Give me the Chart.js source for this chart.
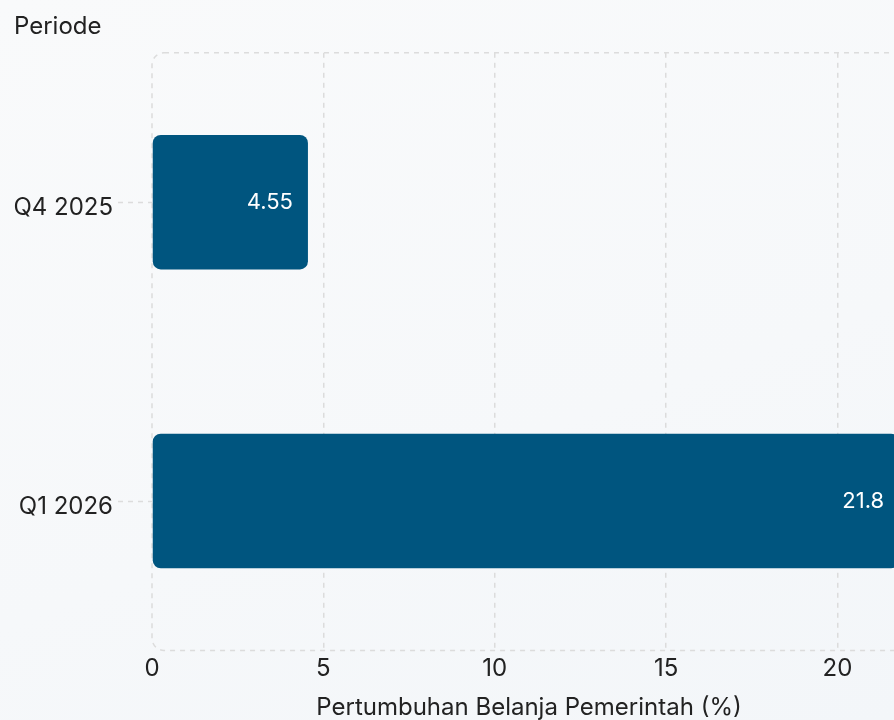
<!DOCTYPE html>
<html>
<head>
<meta charset="utf-8">
<script src="https://cdn.jsdelivr.net/npm/chart.js@4.4.1/dist/chart.umd.min.js"></script>
<style>
  html, body { margin: 0; padding: 0; overflow: hidden; }
  body { width: 894px; height: 720px; background: linear-gradient(160deg, #f9fafb 0%, #f6f8fa 60%, #f3f6f9 100%); }
  #wrap { position: absolute; left: 0; top: 0; width: 930px; height: 726px; }
</style>
</head>
<body>
<div id="wrap"><canvas id="c" width="930" height="726"></canvas></div>
<script>
const categories = ['Q4 2025', 'Q1 2026'];
const growthValues = [4.55, 21.8];
const valueLabels = ['4.55', '21.8'];
const xTickValues = [0, 5, 10, 15, 20];
const xMax = 22;

const textColor = '#222222';
const gridColor = '#dcdcdc';
const fontFamily = 'Inter, "Noto Sans", sans-serif';

const roundedBorder = {
  id: 'roundedBorder',
  beforeDatasetsDraw(chart) {
    const a = chart.chartArea, ctx = chart.ctx;
    ctx.save();
    ctx.strokeStyle = gridColor;
    ctx.lineWidth = 1.5;
    ctx.setLineDash([5, 5]);
    ctx.beginPath();
    ctx.roundRect(a.left, a.top, a.right - a.left, a.bottom - a.top, 12);
    ctx.stroke();
    ctx.restore();
  }
};

const valueLabelPlugin = {
  id: 'valueLabelPlugin',
  afterDatasetsDraw(chart) {
    const ctx = chart.ctx;
    const meta = chart.getDatasetMeta(0);
    ctx.save();
    ctx.fillStyle = '#ffffff';
    ctx.font = '22px ' + fontFamily;
    ctx.textAlign = 'right';
    ctx.textBaseline = 'middle';
    meta.data.forEach((bar, i) => {
      ctx.fillText(valueLabels[i], bar.x - 15, bar.y);
    });
    ctx.restore();
  }
};

new Chart(document.getElementById('c'), {
  type: 'bar',
  data: {
    labels: categories,
    datasets: [{
      data: growthValues,
      backgroundColor: '#00557f',
      borderRadius: 8,
      borderSkipped: false,
      barPercentage: 0.9,
      categoryPercentage: 0.5
    }]
  },
  options: {
    indexAxis: 'y',
    responsive: false,
    animation: false,
    layout: { padding: { left: 14, right: 24, top: 4, bottom: 0 } },
    plugins: {
      legend: { display: false },
      tooltip: { enabled: false },
      title: {
        display: true,
        text: 'Periode',
        align: 'start',
        color: textColor,
        font: { family: fontFamily, size: 24, weight: 'normal' },
        padding: { top: 8, bottom: 12 }
      }
    },
    scales: {
      x: {
        min: 0,
        max: xMax,
        afterBuildTicks(scale) { scale.ticks = xTickValues.map(v => ({ value: v })); },
        ticks: { color: textColor, font: { family: fontFamily, size: 24 }, padding: 4 },
        grid: {
          color: ctx => (ctx.tick && ctx.tick.value === 0) ? 'rgba(0,0,0,0)' : gridColor,
          lineWidth: 1.5,
          drawTicks: false
        },
        border: { display: false, dash: [5, 5] },
        title: {
          display: true,
          text: 'Pertumbuhan Belanja Pemerintah (%)',
          color: textColor,
          font: { family: fontFamily, size: 24 },
          padding: { top: 6, bottom: 4 }
        }
      },
      y: {
        afterFit(scale) { scale.width = 138; },
        ticks: { color: textColor, font: { family: fontFamily, size: 24 }, padding: 5, labelOffset: 6 },
        grid: {
          offset: false,
          drawOnChartArea: false,
          drawTicks: true,
          tickLength: 34,
          tickColor: gridColor,
          tickWidth: 1.5,
          tickBorderDash: [5, 5],
          color: gridColor
        },
        border: { display: false }
      }
    }
  },
  plugins: [roundedBorder, valueLabelPlugin]
});
</script>
</body>
</html>
